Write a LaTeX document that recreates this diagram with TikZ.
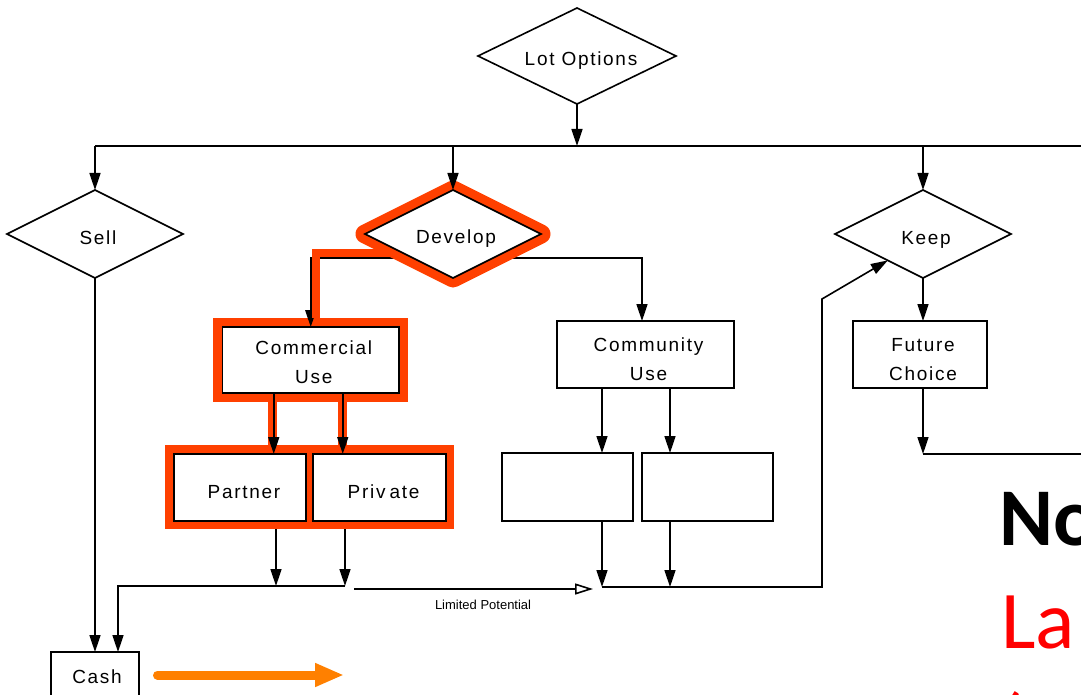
\documentclass[tikz,border=0pt]{standalone}
\usepackage{fontspec}
\setmainfont{Liberation Sans}
\newfontfamily\calfont{Carlito}
\usetikzlibrary{shapes.geometric,arrows.meta,calc}
\pgfdeclarelayer{hlA}
\pgfdeclarelayer{lnA}
\pgfdeclarelayer{lnB}
\pgfsetlayers{hlA,lnA,lnB,main}
\definecolor{hl}{RGB}{255,64,0}
\definecolor{oarrow}{RGB}{255,128,0}
\definecolor{bigred}{RGB}{255,0,0}
\newcommand{\lbl}{\fontsize{19}{29}\selectfont\addfontfeatures{LetterSpace=9}}
\newcommand{\txtpush}[1]{\rule{0pt}{#1pt}\kern6pt}
\begin{document}
\begin{tikzpicture}[x=1pt,y=-1pt,
 conn/.style={draw, line width=1.6pt, -{Triangle[length=17pt,width=11pt]}},
 wire/.style={draw, line width=1.6pt},
 dia/.style={diamond, aspect=2, draw, fill=white, line width=1.6pt, inner sep=0pt, outer sep=0pt, minimum width=176pt, minimum height=88pt, font=\lbl},
 box/.style={rectangle, draw, fill=white, line width=1.8pt, inner sep=0pt, outer sep=0pt, align=center, font=\lbl},
 hlfill/.style={rectangle, fill=hl, inner sep=0pt, outer sep=0pt},
 hlline/.style={draw=hl, line width=9pt},
 bigtext/.style={anchor=base west, inner sep=0pt, outer sep=0pt}
]
\useasboundingbox (0,0) rectangle (1081,695);
\clip (0,0) rectangle (1081,695);

% ---------- nodes ----------
\node[dia, minimum width=198pt, minimum height=96pt] (lot) at (577,56) {\txtpush{22}\kern2pt Lot Options};
\node[dia] (sell) at (95,234) {\txtpush{21}Sell};
\node[dia] (dev) at (453,234) {\txtpush{23}Develop};
\node[dia] (keep) at (923,234) {\txtpush{25}Keep};
\node[box, minimum width=176.5pt, minimum height=66pt] (comm) at (310.75,360) {\txtpush{18}Commercial\\\kern6pt Use};
\node[box, minimum width=132pt, minimum height=67pt] (partner) at (240,487.5) {\txtpush{23}\kern2pt Partner};
\node[box, minimum width=133pt, minimum height=67pt] (private) at (379.5,487.5) {\txtpush{22}\kern2pt Priv\kern4pt ate};
\node[box, minimum width=177pt, minimum height=67pt] (cmty) at (645.5,354.5) {\txtpush{23}Community\\\kern6pt Use};
\node[box, minimum width=131pt, minimum height=68pt] (blankA) at (567.5,487) {};
\node[box, minimum width=131pt, minimum height=68pt] (blankB) at (707.5,487) {};
\node[box, minimum width=134pt, minimum height=67pt] (future) at (920,354.5) {\txtpush{23}Future\\\kern6pt Choice};
\node[box, minimum width=88pt, minimum height=50pt] (cash) at (95,677) {\kern4pt Cash};

\node[bigtext, font=\calfont\bfseries\fontsize{82}{100}\selectfont] (no) at (999,545) {No};
\node[bigtext, text=bigred, font=\calfont\fontsize{82}{100}\selectfont] (la) at (1001,648) {La};
\node[bigtext, text=bigred, font=\calfont\fontsize{82}{100}\selectfont] (paren) at (998,751) {(};

% ---------- coordinates ----------
\coordinate (bus) at (577,146);
\coordinate (busL) at (95,146);
\coordinate (busR) at (1081,146);
\coordinate (fj) at (923,454);
\coordinate (fjR) at (1081,454);
\coordinate (cjA) at (602,587);
\coordinate (cjB) at (670,587);
\coordinate (cjR) at (822,587);
\coordinate (kturn) at (822,299);
\coordinate (pjA) at (276,586);
\coordinate (pjB) at (345,586);
\coordinate (pjL) at (118,586);
\coordinate (lpS) at (354,589);
\coordinate (lpE) at (593,589);
\coordinate (oaS) at (157.5,675);
\coordinate (oaE) at (344,675);

% ---------- highlight fills ----------
\begin{pgfonlayer}{hlA}
\node[hlfill, minimum width=195pt, minimum height=84pt] (commhl) at (310.5,360) {};
\node[hlfill, minimum width=289pt, minimum height=84pt] (pphl) at (309.5,487) {};
\draw[hlline] ([xshift=-38pt]comm.south) -- ([xshift=-38pt]comm.south |- pphl.north);
\draw[hlline] ([xshift=31.5pt]comm.south) -- ([xshift=31.5pt]comm.south |- pphl.north);
\end{pgfonlayer}

% ---------- connectors under the develop highlight ----------
\begin{pgfonlayer}{lnA}
\draw[conn] ([yshift=-2pt]dev.south west) -| (comm.north);
\draw[conn] ([yshift=-2pt]dev.south east) -| ([xshift=-3.5pt]cmty.north);
\draw[conn] ([xshift=-37pt]comm.south) -- ([xshift=-37pt]comm.south |- partner.north);
\draw[conn] ([xshift=32pt]comm.south) -- ([xshift=32pt]comm.south |- private.north);
\end{pgfonlayer}

% ---------- develop highlight and other connectors ----------
\begin{pgfonlayer}{lnB}
\node[diamond, aspect=2, draw=hl, line width=19pt, line join=round, inner sep=0pt, outer sep=0pt, minimum width=176pt, minimum height=88pt] (devhl) at (dev) {};
\draw[hl, line width=8pt] ([yshift=3pt]dev.south west) -| ([xshift=5.5pt]commhl.north);

\draw[conn] (lot.south) -- (bus);
\draw[wire] (busL) -- (busR);
\draw[conn] (busL) -- (sell.north);
\draw[conn] (dev.north |- bus) -- (dev.north);
\draw[conn] (keep.north |- bus) -- (keep.north);
\draw[conn] (keep.south) -- (keep.south |- future.north);
\draw[conn] (future.south -| fj) -- (fj);
\draw[wire] (fj) -- (fjR);

\draw[conn] ([xshift=-43.5pt]cmty.south) -- ([xshift=-43.5pt]cmty.south |- blankA.north);
\draw[conn] ([xshift=24.5pt]cmty.south) -- ([xshift=24.5pt]cmty.south |- blankB.north);
\draw[conn] (blankA.south -| cjA) -- (cjA);
\draw[conn] (blankB.south -| cjB) -- (cjB);
\draw[conn] (cjA) -- (cjR) -- (kturn) -- ($(keep.south west)!0.2!(keep.south)$);

\draw[conn] (pphl.south -| pjA) -- (pjA);
\draw[conn] (pphl.south -| pjB) -- (pjB);
\draw[conn] (pjB) -- (pjL) -- (pjL |- cash.north);
\draw[conn] (sell.south) -- (sell.south |- cash.north);

\draw[line width=1.6pt, -{Triangle[open,length=18pt,width=11pt]}] (lpS) -- (lpE)
  node[pos=0.54, below=10pt, font=\fontsize{13}{15}\selectfont, inner sep=0pt] (lplbl) {Limited Potential};

\draw[oarrow, line width=9pt, line cap=round, -{Triangle[length=29pt,width=22pt]}] (oaS) -- (oaE);
\end{pgfonlayer}
\end{tikzpicture}
\end{document}
